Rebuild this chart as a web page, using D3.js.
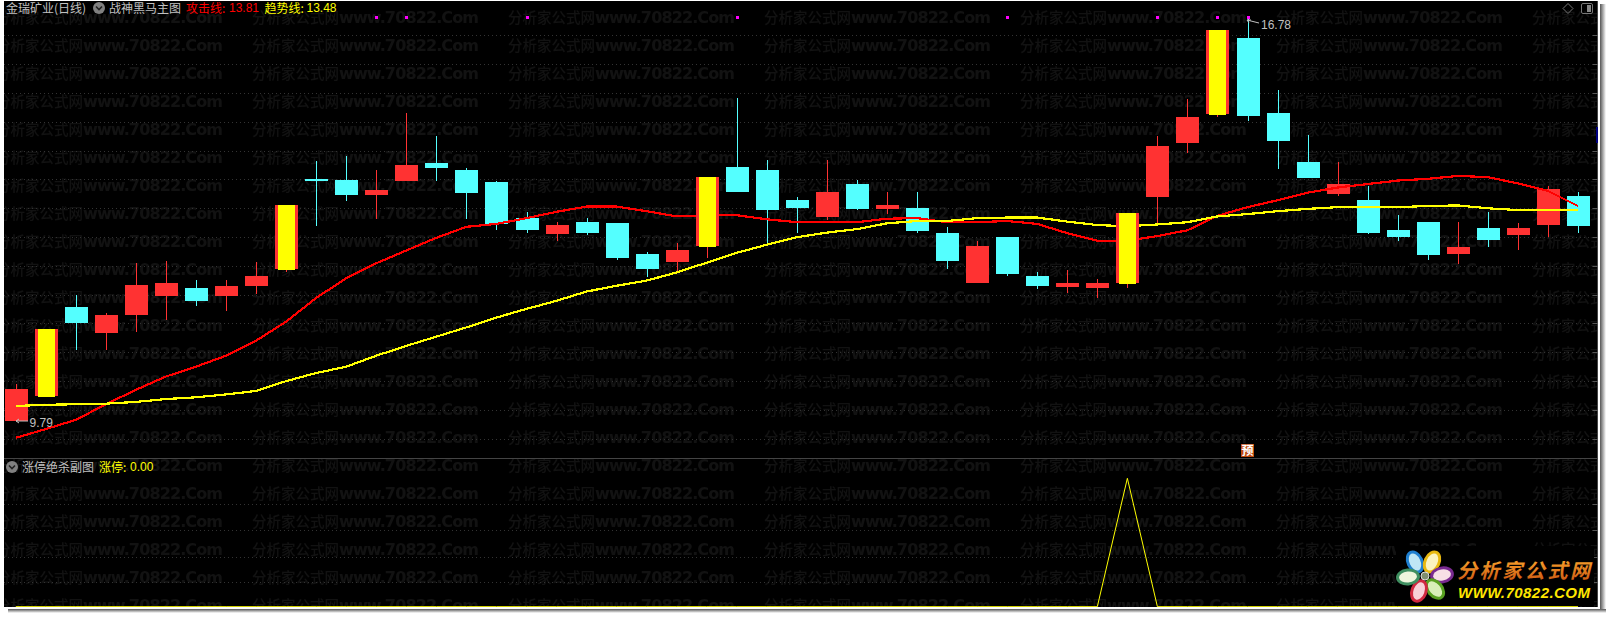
<!DOCTYPE html>
<html><head><meta charset="utf-8">
<script src="https://cdn.jsdelivr.net/npm/d3@7/dist/d3.min.js"></script>
<style>html,body{margin:0;padding:0;background:#fff;overflow:hidden}svg{display:block}</style>
</head><body><div id="chart"></div>
<script>
const openP=[9.79,10.22,11.76,11.31,11.62,11.95,12.09,11.95,12.13,12.42,13.98,13.96,13.70,13.94,14.25,14.13,13.93,13.30,13.03,13.23,13.22,12.68,12.54,12.82,14.18,14.13,13.61,13.32,13.89,13.46,13.48,13.04,12.18,12.97,12.30,12.11,12.09,12.18,13.67,14.60,15.10,16.42,15.12,14.27,13.72,13.61,13.09,13.23,12.68,13.13,13.01,13.18,13.68];
const closeP=[10.34,11.38,11.49,11.62,12.14,12.18,11.87,12.13,12.30,13.53,13.94,13.70,13.79,14.22,14.17,13.73,13.19,13.09,13.18,13.04,12.61,12.42,12.75,14.01,13.75,13.44,13.48,13.75,13.46,13.53,13.08,12.56,12.82,12.33,12.13,12.18,12.18,13.39,14.55,15.05,16.56,15.07,14.63,13.99,13.89,13.04,12.97,12.66,12.80,12.92,13.13,13.80,13.16];
const highP=[10.43,11.38,11.97,11.66,12.52,12.56,12.23,12.23,12.54,13.53,14.29,14.38,14.13,15.12,14.72,14.17,13.94,13.41,13.23,13.30,13.22,12.71,12.87,14.01,15.38,14.31,13.67,14.31,13.96,13.75,13.75,13.15,12.90,12.97,12.37,12.40,12.25,13.39,14.72,15.36,16.56,16.78,15.52,14.74,14.27,13.86,13.35,13.23,13.23,13.41,13.22,13.86,13.75];
const lowP=[9.79,10.22,11.02,11.02,11.33,11.54,11.78,11.69,11.99,12.36,13.16,13.60,13.29,13.94,13.94,13.29,13.09,13.05,12.90,13.01,12.58,12.28,12.37,12.61,13.75,12.85,13.04,13.27,13.44,13.37,13.04,12.42,12.18,12.30,12.07,12.00,11.92,12.09,13.20,14.43,15.05,14.98,14.15,13.99,13.68,13.03,12.90,12.58,12.51,12.80,12.75,12.97,13.04];
const attackLine=[9.50,9.65,9.81,10.08,10.33,10.56,10.73,10.92,11.18,11.51,11.92,12.26,12.52,12.74,12.96,13.15,13.20,13.30,13.41,13.50,13.50,13.42,13.33,13.35,13.35,13.28,13.23,13.23,13.23,13.29,13.30,13.23,13.23,13.25,13.20,13.04,12.91,12.91,12.99,13.09,13.34,13.49,13.61,13.74,13.83,13.89,13.95,13.98,14.03,14.01,13.90,13.77,13.51];
const trendLine=[10.05,10.07,10.08,10.09,10.12,10.17,10.20,10.25,10.31,10.48,10.62,10.73,10.92,11.09,11.25,11.41,11.58,11.73,11.87,12.03,12.13,12.22,12.36,12.53,12.70,12.84,12.97,13.05,13.11,13.21,13.25,13.25,13.30,13.31,13.31,13.24,13.18,13.16,13.19,13.23,13.33,13.37,13.42,13.46,13.49,13.49,13.49,13.51,13.52,13.47,13.44,13.44,13.44];
const limitBars=[1,9,23,37,40];
const signalDots=[12,13,17,24,33,38,40,41];
const limitSeries=[0,0,0,0,0,0,0,0,0,0,0,0,0,0,0,0,0,0,0,0,0,0,0,0,0,0,0,0,0,0,0,0,0,0,0,0,0,1,0,0,0,0,0,0,0,0,0,0,0,0,0,0,0];
const mainGrid=[16.46,15.96,15.46,14.96,14.47,13.97,13.47,12.97,12.47,11.97,11.48,10.98,10.48,9.98,9.48];
const subGrid=[0.8,0.595,0.39,0.19];
const priceMax=16.78, priceMin=9.79;
const stockName="金瑞矿业(日线)", mainName="战神黑马主图", subName="涨停绝杀副图";
const watermarkCN="分析家公式网", watermarkEN="www.70822.Com";

const W=1609,H=617;
const CJK='"Noto Sans CJK SC","Noto Sans",sans-serif', LAT='"Liberation Sans",Arial,sans-serif';
const svg=d3.select('#chart').append('svg').attr('width',W).attr('height',H);
const defs=svg.append('defs');

const x=d3.scaleLinear().domain([0,52]).range([15.8,1578]);
const y=d3.scaleLinear().domain([priceMin,priceMax]).range([421,17]);
const ySub=d3.scaleLinear().domain([0,1]).range([606.7,478.3]);
const px=i=>Math.round(x(i));

// shadows
const gr=defs.append('linearGradient').attr('id','shR');
gr.append('stop').attr('offset',0).attr('stop-color','#555');
gr.append('stop').attr('offset',1).attr('stop-color','#fff');
const gb=defs.append('linearGradient').attr('id','shB').attr('x2',0).attr('y2',1);
gb.append('stop').attr('offset',0).attr('stop-color','#555');
gb.append('stop').attr('offset',1).attr('stop-color','#fff');
svg.append('rect').attr('x',1600).attr('y',4).attr('width',6).attr('height',609).attr('fill','url(#shR)');
svg.append('rect').attr('x',8).attr('y',609).attr('width',1598).attr('height',4).attr('fill','url(#shB)');

// panel
svg.append('rect').attr('x',4).attr('y',1).attr('width',1594).attr('height',606).attr('fill','#000');
defs.append('clipPath').attr('id','panel').append('rect').attr('x',4).attr('y',1).attr('width',1594).attr('height',606);

// watermark tile
const pat=defs.append('pattern').attr('id','wm').attr('patternUnits','userSpaceOnUse')
  .attr('x',-4).attr('y',3).attr('width',256).attr('height',28);
pat.append('text').attr('x',0).attr('y',20).attr('font-family',CJK).attr('font-size',14.5).attr('font-weight',500)
  .attr('fill','#121212').attr('textLength',87).text(watermarkCN);
pat.append('text').attr('x',87).attr('y',20).attr('font-family','"DejaVu Sans",sans-serif').attr('font-size',16).attr('font-weight',700)
  .attr('fill','#121212').attr('textLength',140).text(watermarkEN);
svg.append('rect').attr('x',4).attr('y',1).attr('width',1594).attr('height',606).attr('fill','url(#wm)');

const root=svg.append('g').attr('clip-path','url(#panel)');

// grid
const grid=root.append('g').attr('stroke','#333').attr('stroke-dasharray','1 3').attr('shape-rendering','crispEdges');
grid.selectAll('line.m').data(mainGrid).join('line').attr('class','m')
  .attr('x1',4).attr('x2',1597).attr('y1',d=>Math.round(y(d))+.5).attr('y2',d=>Math.round(y(d))+.5);
grid.selectAll('line.s').data(subGrid).join('line').attr('class','s')
  .attr('x1',4).attr('x2',1597).attr('y1',d=>Math.round(ySub(d))+.5).attr('y2',d=>Math.round(ySub(d))+.5);

// separators and right rail
root.append('line').attr('x1',4).attr('x2',1598).attr('y1',458.5).attr('y2',458.5).attr('stroke','#444');
root.append('line').attr('x1',1597.5).attr('x2',1597.5).attr('y1',1).attr('y2',607).attr('stroke','#444');
const rail=root.append('g').attr('stroke','#555');
rail.selectAll('line.a').data(mainGrid).join('line').attr('class','a')
  .attr('x1',1593).attr('x2',1598).attr('y1',d=>Math.round(y(d))+.5).attr('y2',d=>Math.round(y(d))+.5);
rail.selectAll('line.b').data(subGrid).join('line').attr('class','b')
  .attr('x1',1593).attr('x2',1598).attr('y1',d=>Math.round(ySub(d))+.5).attr('y2',d=>Math.round(ySub(d))+.5);
root.append('rect').attr('x',1596).attr('y',127).attr('width',2).attr('height',16).attr('fill','#000080');

// candles
const RED='#ff3232', CY='#54ffff';
const idx=d3.range(openP.length);
const isLimit=i=>limitBars.includes(i);
const cg=root.append('g').attr('shape-rendering','crispEdges');
const col=i=>closeP[i]>=openP[i]?RED:CY;
const drawWick=(g,list)=>g.selectAll('line').data(list).join('line')
  .attr('x1',i=>px(i)+.5).attr('x2',i=>px(i)+.5)
  .attr('y1',i=>Math.round(y(highP[i]))).attr('y2',i=>Math.round(y(lowP[i])))
  .attr('stroke',col);
const normal=idx.filter(i=>!isLimit(i));
drawWick(cg.append('g'),normal);
cg.append('g').selectAll('rect').data(normal).join('rect')
  .attr('x',i=>px(i)-11).attr('width',23)
  .attr('y',i=>Math.round(y(Math.max(openP[i],closeP[i]))))
  .attr('height',i=>Math.max(2,Math.round(y(Math.min(openP[i],closeP[i])))-Math.round(y(Math.max(openP[i],closeP[i])))))
  .attr('fill',col);

// lines
const line=d3.line().x((d,i)=>x(i)).y(d=>y(d));
root.append('path').attr('d',line(attackLine)).attr('fill','none').attr('stroke','#ff0000').attr('stroke-width',2.2).attr('shape-rendering','crispEdges');
root.append('path').attr('d',line(trendLine)).attr('fill','none').attr('stroke','#ffff00').attr('stroke-width',2.2).attr('shape-rendering','crispEdges');

// limit bars on top
const lg=root.append('g').attr('shape-rendering','crispEdges');
drawWick(lg.append('g'),limitBars);
lg.append('g').selectAll('rect').data(limitBars).join('rect')
  .attr('x',i=>px(i)-11).attr('width',23)
  .attr('y',i=>Math.round(y(closeP[i]))).attr('height',i=>Math.round(y(openP[i]))-Math.round(y(closeP[i])))
  .attr('fill',RED);
lg.append('g').selectAll('rect').data(limitBars).join('rect')
  .attr('x',i=>px(i)-8).attr('width',17)
  .attr('y',i=>Math.round(y(closeP[i]))).attr('height',i=>Math.round(y(openP[i]))-Math.round(y(closeP[i]))+1)
  .attr('fill','#ffff00');

// signal dots
root.append('g').attr('shape-rendering','crispEdges').selectAll('rect').data(signalDots).join('rect')
  .attr('x',i=>px(i)-1).attr('y',16).attr('width',3).attr('height',3).attr('fill','#ff00ff');

// sub panel line
const lineSub=d3.line().x((d,i)=>x(i)).y(d=>ySub(d));
root.append('path').attr('d',lineSub(limitSeries)).attr('fill','none').attr('stroke','#ffff00').attr('stroke-width',1);

// header text
function t(xp,yp,s,fill,font,size){return root.append('text').attr('x',xp).attr('y',yp).attr('fill',fill).attr('font-family',font).attr('font-size',size||12).text(s);}
t(6,13,stockName,'#c0c0c0',CJK);
function bullet(cx,cy){
  root.append('circle').attr('cx',cx).attr('cy',cy).attr('r',6).attr('fill','#808080');
  root.append('path').attr('d',`M${cx-3} ${cy-1.5}L${cx} ${cy+1.5}L${cx+3} ${cy-1.5}`).attr('fill','none').attr('stroke','#222').attr('stroke-width',1.6);
}
bullet(99,8);
t(109,13,mainName,'#c0c0c0',CJK);
t(186,13,'攻击线:','#ff0000',CJK);
t(229,12,'13.81','#ff0000',LAT);
t(264.5,13,'趋势线:','#ffff00',CJK);
t(306.5,12,'13.48','#ffff00',LAT);
bullet(12,467);
t(22,472,subName,'#c0c0c0',CJK);
t(99,472,'涨停:','#ffff00',CJK);
t(130,471,'0.00','#ffff00',LAT);

// extreme labels
root.append('path').attr('d','M16 421H28M16 421l3 -2M16 421l3 2').attr('stroke','#c0c0c0').attr('fill','none');
t(29.5,427,'9.79','#c0c0c0',LAT);
root.append('path').attr('d','M1247 20L1259 23M1247 20l2 3M1247 20l4 0').attr('stroke','#c0c0c0').attr('fill','none');
t(1261,29,'16.78','#c0c0c0',LAT);

// forecast tag
root.append('rect').attr('x',1241).attr('y',444).attr('width',13).attr('height',13).attr('fill','#c04a10');
t(1241.5,455,'预','#fff',CJK,12).attr('font-weight',700);

// icons
root.append('path').attr('d','M1568 3.5L1573 8.5L1568 13.5L1563 8.5Z').attr('fill','none').attr('stroke','#777');
root.append('rect').attr('x',1581.5).attr('y',3.5).attr('width',11).attr('height',10).attr('rx',1.5).attr('fill','none').attr('stroke','#777');
root.append('rect').attr('x',1587).attr('y',5).attr('width',4).attr('height',7).attr('fill','#888');

// logo
const petals=[
 {cx:1415,cy:562,rot:-115,outer:'#1f7fd0',inner:'#bfe6f5'},
 {cx:1432,cy:562,rot:-65,outer:'#e8b810',inner:'#fbf3c0'},
 {cx:1442,cy:575,rot:-10,outer:'#7a2a90',inner:'#f7dfe6'},
 {cx:1435,cy:589,rot:50,outer:'#58a020',inner:'#d8efb8'},
 {cx:1419,cy:591,rot:110,outer:'#d02840',inner:'#f8d0d8'},
 {cx:1408,cy:577,rot:175,outer:'#3f8f60',inner:'#eef5dc'}];
const pg=svg.append('g');
pg.append('rect').attr('x',1396).attr('y',546).attr('width',198).attr('height',60).attr('fill','#000');
petals.forEach(p=>{
  const g=pg.append('g').attr('transform',`translate(${p.cx},${p.cy}) rotate(${p.rot})`);
  g.append('ellipse').attr('rx',12).attr('ry',8.5).attr('fill',p.outer);
  g.append('ellipse').attr('rx',9).attr('ry',5.5).attr('fill',p.inner);
});
pg.append('circle').attr('cx',1425).attr('cy',576).attr('r',4).attr('fill','#7f8f70').attr('stroke','#ddd');
const og=defs.append('linearGradient').attr('id','og').attr('x2',0).attr('y2',1);
og.append('stop').attr('offset',0).attr('stop-color','#ffb030');
og.append('stop').attr('offset',1).attr('stop-color','#c85010');
svg.append('text').attr('x',1457).attr('y',578).attr('font-family',CJK).attr('font-weight',700).attr('font-style','italic')
  .attr('font-size',20).attr('fill','url(#og)').attr('textLength',133).text('分析家公式网');
svg.append('text').attr('x',1458).attr('y',598).attr('font-family',LAT).attr('font-weight',700).attr('font-style','italic')
  .attr('font-size',15).attr('fill','#ffe600').attr('textLength',132).text('WWW.70822.COM');
</script></body></html>
